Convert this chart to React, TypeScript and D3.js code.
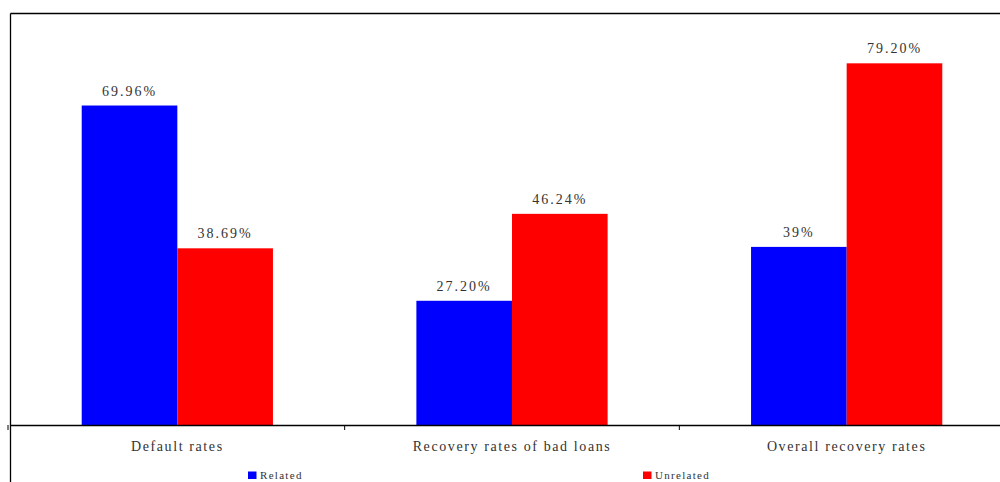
import React from "react";
import * as d3 from "d3";

const categories = ["Default rates", "Recovery rates of bad loans", "Overall recovery rates"];
const seriesNames = ["Related", "Unrelated"];
const related = [69.96, 27.2, 39];
const unrelated = [38.69, 46.24, 79.2];
const relatedLabels = ["69.96%", "27.20%", "39%"];
const unrelatedLabels = ["38.69%", "46.24%", "79.20%"];
const colors = ["#0000ff", "#ff0000"];

const W = 1000;
const H = 482;
const FONT = "'Liberation Serif', 'Times New Roman', serif";

export default function App() {
  const x0 = d3.scaleBand<string>().domain(categories).range([10, 1014]).paddingInner(0).paddingOuter(0);
  const x1 = d3.scaleBand<string>().domain(seriesNames).range([0, x0.bandwidth()]).paddingInner(0).paddingOuter(0.75);
  const y = d3.scaleLinear().domain([0, 90]).range([425, 14]);
  const values = [related, unrelated];
  const labels = [relatedLabels, unrelatedLabels];

  return (
    <svg width={W} height={H} style={{ position: "absolute", left: 0, top: 0, background: "#fff" }}>
      {/* frame */}
      <line x1={10.5} y1={13.5} x2={W} y2={13.5} stroke="#000" strokeWidth={1.3} />
      <line x1={10.5} y1={13.5} x2={10.5} y2={H} stroke="#000" strokeWidth={1.3} />
      {categories.map((c, ci) =>
        seriesNames.map((s, si) => {
          const v = values[si][ci];
          const bx = (x0(c) as number) + (x1(s) as number);
          return (
            <g key={c + s}>
              <rect x={bx} y={y(v)} width={x1.bandwidth()} height={y(0) - y(v)} fill={colors[si]} />
              <text
                x={bx + x1.bandwidth() / 2}
                y={y(v) - 10}
                textAnchor="middle"
                fontFamily={FONT}
                fontSize={14}
                letterSpacing={2}
                fill="#333"
              >
                {labels[si][ci]}
              </text>
            </g>
          );
        })
      )}
      {/* x axis */}
      <line x1={10} y1={425.5} x2={W} y2={425.5} stroke="#000" strokeWidth={1.3} />
      {categories.map((c, i) => (
        <g key={c}>
          {i > 0 && (
            <line x1={x0(c) as number} y1={425} x2={x0(c) as number} y2={430} stroke="#000" strokeWidth={1} />
          )}
          <text
            x={(x0(c) as number) + x0.bandwidth() / 2}
            y={451}
            textAnchor="middle"
            fontFamily={FONT}
            fontSize={14}
            letterSpacing={1.6}
            fill="#333"
          >
            {c}
          </text>
        </g>
      ))}
      <line x1={8} y1={425} x2={8} y2={430} stroke="#000" strokeWidth={1} />
      {/* legend */}
      {seriesNames.map((s, i) => {
        const lx = [248, 643][i];
        return (
          <g key={s}>
            <rect x={lx} y={471.5} width={8.5} height={7.5} fill={colors[i]} />
            <text x={lx + 12} y={478.5} fontFamily={FONT} fontSize={11} letterSpacing={1.3} fill="#333">
              {s}
            </text>
          </g>
        );
      })}
    </svg>
  );
}
